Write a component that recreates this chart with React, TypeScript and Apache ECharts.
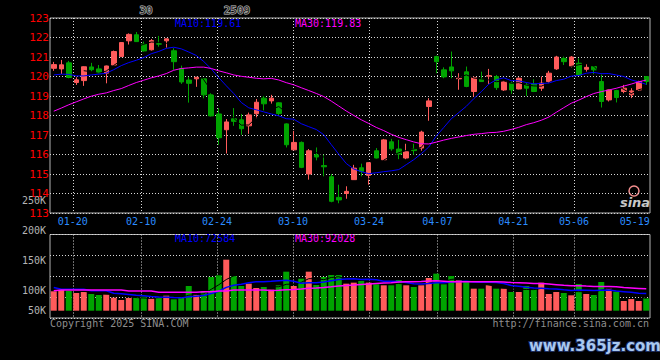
import { useEffect, useRef } from 'react';
import * as echarts from 'echarts';

// ---------- data ----------
const dates = [
  '01-15', '01-16', '01-17', '01-20', '01-21', '01-22', '01-23', '01-24', '01-27',
  '02-05', '02-06', '02-07', '02-10', '02-11', '02-12', '02-13', '02-14', '02-17', '02-18',
  '02-19', '02-20', '02-21', '02-24', '02-25', '02-26', '02-27', '02-28',
  '03-03', '03-04', '03-05', '03-06', '03-07', '03-10', '03-11', '03-12', '03-13', '03-14',
  '03-17', '03-18', '03-19', '03-20', '03-21', '03-24', '03-25', '03-26', '03-27', '03-28', '03-31',
  '04-01', '04-02', '04-03', '04-07', '04-08', '04-09', '04-10', '04-11', '04-14', '04-15',
  '04-16', '04-17', '04-18', '04-21', '04-22', '04-23', '04-24', '04-25', '04-28', '04-29', '04-30',
  '05-06', '05-07', '05-08', '05-09', '05-12', '05-13', '05-14', '05-15', '05-16', '05-19', '05-20',
];

const opens = [
  120.42, 120.39, 120.70, 119.69, 119.79, 120.49, 120.39, 120.17, 120.59, 121.02,
  121.83, 122.14, 121.66, 121.37, 121.68, 121.83, 121.32, 120.41, 119.82, 119.88,
  119.88, 119.06, 118.08, 117.27, 117.83, 117.78, 117.47, 118.09, 118.89, 118.75,
  118.65, 117.57, 116.24, 116.62, 115.00, 115.99, 115.43, 114.86, 113.80, 114.00,
  114.71, 115.32, 114.93, 116.19, 115.73, 116.65, 116.28, 115.82, 116.27, 116.33,
  118.46, 121.02, 120.34, 120.49, 119.88, 120.24, 119.23, 119.86, 120.02, 120.00,
  119.31, 119.66, 119.36, 119.57, 119.61, 119.40, 119.74, 120.39, 120.93, 120.54,
  120.68, 120.37, 120.51, 119.74, 118.80, 119.28, 119.23, 119.06, 119.31, 120.00,
];
const closes = [
  120.61, 120.60, 119.95, 119.83, 120.50, 120.35, 120.18, 120.54, 121.28, 121.74,
  122.16, 121.79, 121.31, 121.84, 121.66, 121.93, 120.76, 119.72, 119.65, 119.96,
  119.06, 117.98, 116.86, 117.67, 117.70, 117.32, 118.03, 118.68, 118.60, 118.89,
  118.10, 116.50, 116.62, 115.34, 116.19, 115.87, 115.37, 113.60, 113.67, 114.11,
  115.30, 115.13, 115.58, 115.82, 116.75, 116.29, 116.02, 116.14, 116.20, 117.15,
  118.75, 120.76, 119.98, 120.29, 119.91, 119.49, 119.95, 119.74, 120.04, 119.43,
  119.74, 119.31, 119.91, 119.40, 119.23, 119.66, 120.17, 121.00, 120.76, 121.00,
  120.08, 120.47, 120.34, 118.72, 119.31, 118.92, 119.40, 119.26, 119.74, 119.74,
];
const highs = [
  120.75, 120.85, 120.80, 119.96, 120.52, 120.70, 120.59, 120.56, 121.33, 121.76,
  122.21, 122.28, 121.79, 121.92, 122.08, 121.95, 121.45, 120.56, 119.98, 119.98,
  119.92, 119.14, 118.38, 117.82, 118.38, 118.08, 118.15, 118.85, 119.00, 119.06,
  118.68, 117.60, 117.21, 116.67, 116.28, 116.36, 115.99, 115.00, 114.45, 114.37,
  115.47, 115.53, 115.60, 116.33, 116.80, 116.80, 116.75, 116.55, 116.55, 117.22,
  118.89, 121.07, 120.47, 121.28, 120.17, 120.51, 120.00, 120.25, 120.39, 120.08,
  119.78, 119.74, 119.96, 119.66, 119.86, 120.00, 120.29, 121.06, 121.02, 121.05,
  120.93, 120.63, 120.52, 120.17, 119.33, 119.32, 119.57, 119.40, 119.78, 120.02,
];
const lows = [
  120.29, 120.13, 119.91, 119.57, 119.52, 120.25, 120.12, 119.65, 120.55, 121.00,
  121.64, 121.78, 121.28, 121.33, 121.53, 121.48, 120.34, 119.62, 118.66, 119.47,
  118.88, 117.95, 116.50, 116.05, 117.47, 117.01, 117.06, 117.86, 118.26, 118.61,
  118.00, 116.36, 116.24, 115.30, 114.71, 115.70, 114.88, 113.55, 113.50, 113.73,
  114.70, 114.88, 114.45, 115.80, 115.70, 116.19, 115.76, 115.76, 115.99, 116.19,
  117.73, 120.17, 119.91, 119.91, 119.32, 119.45, 118.97, 119.72, 119.62, 119.31,
  119.26, 119.11, 119.34, 119.00, 119.20, 119.26, 119.66, 120.34, 120.59, 120.47,
  120.06, 120.25, 120.12, 118.41, 118.72, 118.67, 119.14, 118.89, 119.26, 119.57,
];

// volume, in thousands (as drawn against the volume axis)
const volumes = [
  99.0, 101.2, 99.5, 96.2, 97.8, 94.5, 92.8, 93.4, 88.4, 84.5,
  87.8, 88.4, 90.0, 86.7, 89.0, 91.7, 85.6, 88.4, 107.8, 93.4,
  99.5, 122.8, 125.6, 151.7, 124.5, 107.8, 111.7, 104.5, 106.2, 101.7,
  109.0, 131.7, 107.8, 120.0, 131.7, 109.5, 122.8, 126.1, 126.1, 111.7,
  113.4, 116.2, 113.4, 110.6, 109.0, 109.0, 117.8, 109.0, 106.2, 109.0,
  121.2, 128.4, 110.6, 124.5, 117.3, 115.0, 103.4, 103.4, 109.0, 103.4,
  103.4, 97.8, 97.8, 107.8, 102.3, 113.4, 94.5, 97.8, 96.2, 92.3,
  111.2, 94.5, 92.8, 114.5, 103.4, 98.4, 82.8, 86.1, 82.8, 87.3,
];

// moving-average values before the window is full
const priceMa10Lead = [120.08, 120.12, 120.11, 120.03, 120.03, 120.08, 120.12, 120.17, 120.35];
const priceMa30Lead = [
  118.22, 118.38, 118.55, 118.70, 118.85, 118.99, 119.09, 119.16, 119.28, 119.38,
  119.54, 119.69, 119.81, 119.93, 120.03, 120.15, 120.32, 120.41, 120.44, 120.48,
  120.48, 120.41, 120.29, 120.19, 120.08, 120.01, 119.96, 119.91, 119.88,
];
const volMa10Lead = [105.5, 102.3, 102.3, 102.3, 102.3, 100.0, 100.0, 100.0, 95.7];
const volMa30Lead = [
  100.0, 101.2, 101.2, 101.2, 101.2, 101.2, 101.2, 101.2, 101.2, 101.2,
  99.5, 99.5, 99.5, 99.5, 97.3, 97.3, 97.3, 97.3, 97.3, 97.3,
  98.4, 98.4, 99.5, 99.5, 101.2, 101.2, 101.2, 101.2, 101.2,
];

// axis labels
const tickLabels = ['01-20', '02-10', '02-24', '03-10', '03-24', '04-07', '04-21', '05-06', '05-19'];
const tickSlots = [3, 12, 22, 32, 42, 51, 61, 69, 77];
const gridSlots = tickSlots.slice(0, 8);
const volTickValues = [200 / 3, 100, 150, 200, 250];
const volTickLabels = ['50K', '100K', '150K', '200K', '250K'];

const legendMain = ['MA10:119.61', 'MA30:119.83'];
const legendVol = ['MA10:72584', 'MA30:92028'];
const headerTexts = ['30', '2509'];
const footerTexts = ['Copyright 2025 SINA.COM', 'http://finance.sina.com.cn'];

// ---------- styling ----------
const UP = '#ff5b5b';
const DOWN = '#00a400';
const BLUE = '#0000ff';
const MAGENTA = '#ff00ff';
const MONO = "'DejaVu Sans Mono', 'Liberation Mono', monospace";
const GRID_LINE = { color: '#d8d8d8', type: [1, 2] as number[], width: 1 };

function movingAverage(values: number[], n: number, lead: number[]) {
  return values.map((_, i) => {
    if (i < n - 1) return lead[i] !== undefined ? lead[i] : '-';
    let s = 0;
    for (let k = i - n + 1; k <= i; k++) s += values[k];
    return +(s / n).toFixed(3);
  });
}

const slotData = Array.from({ length: 80 }, () => '');
tickSlots.forEach((s, i) => {
  slotData[s] = tickLabels[i];
});

export default function App() {
  const ref = useRef<HTMLDivElement>(null);

  useEffect(() => {
    if (!ref.current) return;
    const chart = echarts.init(ref.current, null, { renderer: 'svg' });

    const candles = dates.map((_, i) => [opens[i], closes[i], lows[i], highs[i]]);
    const volBars = volumes.map((v, i) => ({
      value: v,
      itemStyle: { color: closes[i] >= opens[i] ? UP : DOWN },
    }));
    const lineBase = { type: 'line', symbol: 'none', silent: true, smooth: false };

    chart.setOption({
      animation: false,
      backgroundColor: '#000000',
      grid: [
        { left: 50, top: 18, width: 600, height: 195, show: true, borderColor: '#b4b4b4', borderWidth: 1 },
        { left: 50, top: 234.5, width: 600, height: 83.5, show: true, borderColor: '#b4b4b4', borderWidth: 1 },
        { left: 50, top: 200.7, width: 600, height: 110 },
      ],
      xAxis: [
        { type: 'category', gridIndex: 0, data: dates, boundaryGap: true, show: false, position: 'top' },
        {
          type: 'category', gridIndex: 0, data: slotData, boundaryGap: false, position: 'bottom',
          axisLine: { show: false }, axisTick: { show: false },
          axisLabel: { interval: 0, color: '#2b8cff', fontFamily: MONO, fontSize: 10, margin: 3 },
          splitLine: { show: true, interval: (i: number) => gridSlots.includes(i), lineStyle: GRID_LINE },
        },
        {
          type: 'category', gridIndex: 1, data: slotData, boundaryGap: false,
          axisLine: { show: false }, axisTick: { show: false }, axisLabel: { show: false },
          splitLine: { show: true, interval: (i: number) => gridSlots.includes(i), lineStyle: GRID_LINE },
        },
        { type: 'category', gridIndex: 2, data: dates, boundaryGap: true, show: false },
      ],
      yAxis: [
        {
          type: 'value', gridIndex: 0, min: 113, max: 123, interval: 1,
          axisLine: { show: false }, axisTick: { show: false },
          axisLabel: { color: '#ff0000', fontFamily: MONO, fontSize: 11, margin: 1 },
          splitLine: { show: true, lineStyle: GRID_LINE },
        },
        {
          type: 'value', gridIndex: 1, min: 0, max: 83.5, interval: 21, inverse: true,
          axisLine: { show: false }, axisTick: { show: false }, axisLabel: { show: false },
          splitLine: { show: true, lineStyle: GRID_LINE },
        },
        {
          type: 'value', gridIndex: 2, min: 200 / 3, max: 250, startValue: 200 / 3,
          axisLine: { show: false }, axisTick: { show: false }, splitLine: { show: false },
          axisLabel: {
            customValues: volTickValues,
            color: '#b4b4b4', fontFamily: MONO, fontSize: 10, margin: 4,
            formatter: (v: number) => {
              let best = 0;
              volTickValues.forEach((t, i) => {
                if (Math.abs(t - v) < Math.abs(volTickValues[best] - v)) best = i;
              });
              return volTickLabels[best];
            },
          },
        },
      ],
      series: [
        {
          type: 'candlestick', xAxisIndex: 0, yAxisIndex: 0, data: candles, barWidth: 5,
          itemStyle: { color: UP, color0: DOWN, borderColor: UP, borderColor0: DOWN, borderWidth: 1 },
        },
        { ...lineBase, xAxisIndex: 0, yAxisIndex: 0, data: movingAverage(closes, 5, []), lineStyle: { color: '#000000', width: 1 } },
        { ...lineBase, xAxisIndex: 0, yAxisIndex: 0, data: movingAverage(closes, 10, priceMa10Lead), lineStyle: { color: BLUE, width: 1 } },
        { ...lineBase, xAxisIndex: 0, yAxisIndex: 0, data: movingAverage(closes, 30, priceMa30Lead), lineStyle: { color: MAGENTA, width: 1 } },
        { type: 'bar', xAxisIndex: 3, yAxisIndex: 2, data: volBars, barWidth: 6 },
        { ...lineBase, xAxisIndex: 3, yAxisIndex: 2, data: movingAverage(volumes, 5, []), lineStyle: { color: '#000000', width: 1 } },
        { ...lineBase, xAxisIndex: 3, yAxisIndex: 2, data: movingAverage(volumes, 10, volMa10Lead), lineStyle: { color: BLUE, width: 1.5 } },
        { ...lineBase, xAxisIndex: 3, yAxisIndex: 2, data: movingAverage(volumes, 30, volMa30Lead), lineStyle: { color: MAGENTA, width: 1.5 } },
      ],
      graphic: [
        { type: 'text', x: 146, y: 10, style: { text: headerTexts[0], fill: '#3a3a3a', stroke: '#c8c8c8', lineWidth: 1, font: `bold 11px ${MONO}`, align: 'center', verticalAlign: 'middle' } },
        { type: 'text', x: 237, y: 10, style: { text: headerTexts[1], fill: '#3a3a3a', stroke: '#c8c8c8', lineWidth: 1, font: `bold 11px ${MONO}`, align: 'center', verticalAlign: 'middle' } },
        { type: 'text', x: 175, y: 23.5, style: { text: legendMain[0], fill: BLUE, font: `10px ${MONO}`, verticalAlign: 'middle' } },
        { type: 'text', x: 295, y: 23.5, style: { text: legendMain[1], fill: MAGENTA, font: `10px ${MONO}`, verticalAlign: 'middle' } },
        { type: 'text', x: 175, y: 238, style: { text: legendVol[0], fill: BLUE, font: `10px ${MONO}`, verticalAlign: 'middle' } },
        { type: 'text', x: 295, y: 238, style: { text: legendVol[1], fill: MAGENTA, font: `10px ${MONO}`, verticalAlign: 'middle' } },
        { type: 'text', x: 50, y: 323.5, style: { text: footerTexts[0], fill: '#8e8e8e', font: `10px ${MONO}`, verticalAlign: 'middle' } },
        { type: 'text', x: 649, y: 323.5, style: { text: footerTexts[1], fill: '#8e8e8e', font: `10px ${MONO}`, align: 'right', verticalAlign: 'middle' } },
        { type: 'circle', shape: { cx: 634, cy: 191, r: 5 }, style: { fill: 'none', stroke: '#f08c8c', lineWidth: 1.5 } },
        { type: 'text', x: 635, y: 202, style: { text: 'sina', fill: '#c8c8c8', font: "italic bold 13px 'DejaVu Sans', sans-serif", align: 'center', verticalAlign: 'middle' } },
        { type: 'text', x: 595, y: 346, style: { text: 'www.365jz.com', fill: '#a8c8f0', stroke: '#1c2c5c', lineWidth: 2, font: "bold 15px 'DejaVu Sans', sans-serif", align: 'center', verticalAlign: 'middle' } },
      ],
    });

    return () => chart.dispose();
  }, []);

  return (
    <div
      ref={ref}
      style={{ position: 'fixed', left: 0, top: 0, width: 660, height: 360, background: '#000000' }}
    />
  );
}
